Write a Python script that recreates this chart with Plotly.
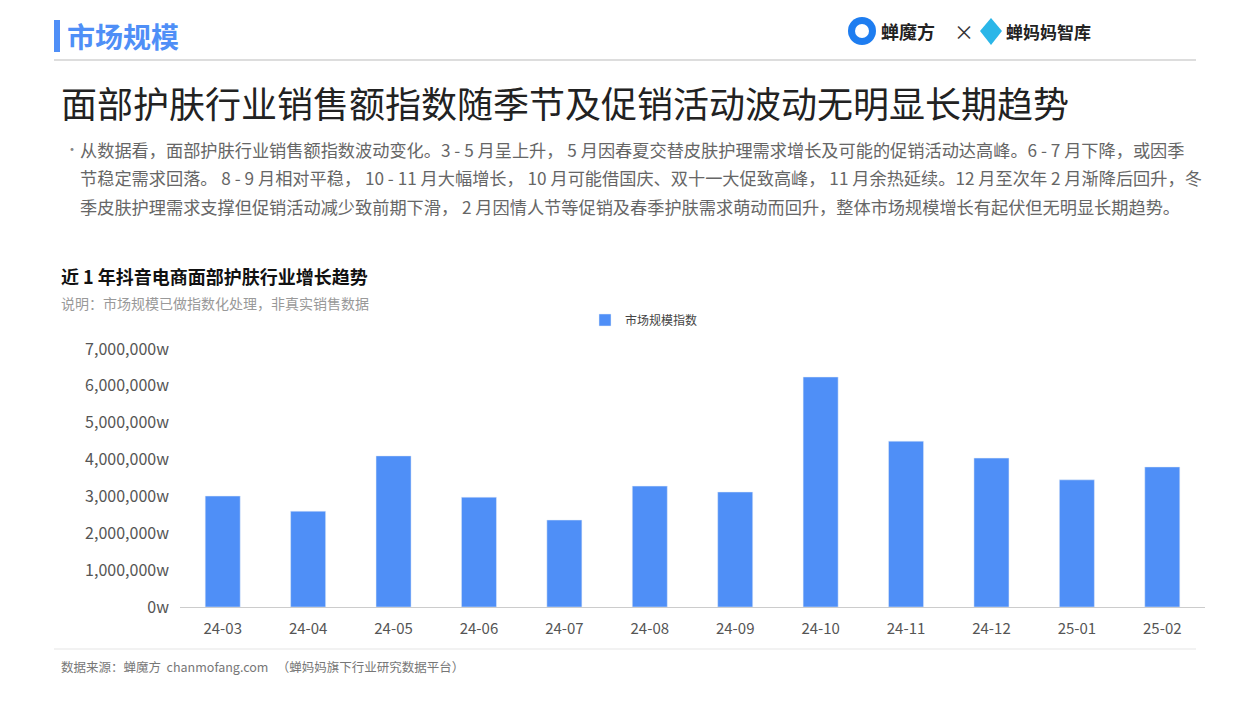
import plotly.graph_objects as go

months = ["24-03", "24-04", "24-05", "24-06", "24-07", "24-08",
          "24-09", "24-10", "24-11", "24-12", "25-01", "25-02"]
index_values = [3010000, 2600000, 4100000, 2980000, 2360000, 3280000,
                3120000, 6240000, 4500000, 4040000, 3450000, 3800000]

W, H = 1248, 701
OFF = 8  # page margin of the html body
L, R, T, B = 180 - OFF, 43 + OFF, 349 - OFF, 94 + OFF
FONT = "Noto Sans CJK SC"

def px(x):
    return (x - OFF - L) / (W - L - R)

def py(y):
    return (H - B - (y - OFF)) / (H - T - B)

fig = go.Figure()
fig.add_trace(go.Bar(x=months, y=index_values, name="市场规模指数",
                     marker_color="#4f8ff7"))

def txt(x, y, s, size, color, bold=False, anchor="left"):
    if bold:
        s = "<b>" + s + "</b>"
    fig.add_annotation(x=px(x), y=py(y), xref="paper", yref="paper", text=s,
                       showarrow=False, xanchor=anchor, yanchor="middle", align="left",
                       borderpad=0, font=dict(family=FONT, size=size, color=color))

txt(66, 36, "市场规模", 28, "#4f8ff7", True)
txt(60, 102, "面部护肤行业销售额指数随季节及促销活动波动无明显长期趋势", 36, "#222222")
desc = ["从数据看，面部护肤行业销售额指数波动变化。3 - 5 月呈上升， 5 月因春夏交替皮肤护理需求增长及可能的促销活动达高峰。6 - 7 月下降，或因季",
        "节稳定需求回落。 8 - 9 月相对平稳， 10 - 11 月大幅增长， 10 月可能借国庆、双十一大促致高峰， 11 月余热延续。12 月至次年 2 月渐降后回升，冬",
        "季皮肤护理需求支撑但促销活动减少致前期下滑， 2 月因情人节等促销及春季护肤需求萌动而回升，整体市场规模增长有起伏但无明显长期趋势。"]
txt(64, 148, "•", 14, "#888888")
for i, line in enumerate(desc):
    txt(79, 149 + i * 29, line, 17.2, "#666666")
txt(60, 276, "近 1 年抖音电商面部护肤行业增长趋势", 18, "#111111", True)
txt(60, 303, "说明：市场规模已做指数化处理，非真实销售数据", 14, "#999999")
txt(60, 666, "数据来源：蝉魔方  chanmofang.com   （蝉妈妈旗下行业研究数据平台）", 12.5, "#777777")
txt(880, 31, "<b>蝉魔方</b>", 18, "#222222")
txt(953, 31, "×", 20, "#333333")
txt(1005, 31, "<b>蝉妈妈智库</b>", 17, "#222222")

fig.add_shape(type="rect", xref="paper", yref="paper", x0=px(54), x1=px(60), y0=py(20), y1=py(52),
              fillcolor="#4f8ff7", line_width=0)
fig.add_shape(type="line", xref="paper", yref="paper", x0=px(54), x1=px(1196), y0=py(60), y1=py(60),
              line=dict(color="#dddddd", width=2))
fig.add_shape(type="line", xref="paper", yref="paper", x0=px(54), x1=px(1196), y0=py(649), y1=py(649),
              line=dict(color="#e5e5e5", width=1))
fig.add_shape(type="circle", xref="paper", yref="paper", x0=px(848), x1=px(876), y0=py(17), y1=py(45),
              fillcolor="#1e7df0", line_width=0)
fig.add_shape(type="circle", xref="paper", yref="paper", x0=px(855), x1=px(869), y0=py(24), y1=py(38),
              fillcolor="white", line_width=0)
fig.add_shape(type="path", xref="paper", yref="paper",
              path="M %f %f L %f %f L %f %f L %f %f Z" % (px(980), py(31), px(991), py(18), px(1002), py(31), px(991), py(45)),
              fillcolor="#2ab6e8", line_width=0)

fig.update_layout(
    width=W, height=H, margin=dict(l=L, r=R, t=T, b=B),
    plot_bgcolor="white", paper_bgcolor="white",
    font=dict(family=FONT, size=14, color="#555555"),
    showlegend=True,
    legend=dict(orientation="h", x=px(585), y=py(320), xanchor="left", yanchor="middle",
                font=dict(size=12, color="#444444")),
    bargap=0.59,
    xaxis=dict(type="category", showline=True, linecolor="#cccccc", ticks="",
               ticklabelstandoff=8, tickfont=dict(size=15, color="#555555")),
    yaxis=dict(range=[0, 7000000], dtick=1000000, tickformat=",", ticksuffix="w",
               showgrid=False, zeroline=False, ticklabelstandoff=10,
               tickfont=dict(size=16, color="#555555")),
)
fig.write_html("out.html")
